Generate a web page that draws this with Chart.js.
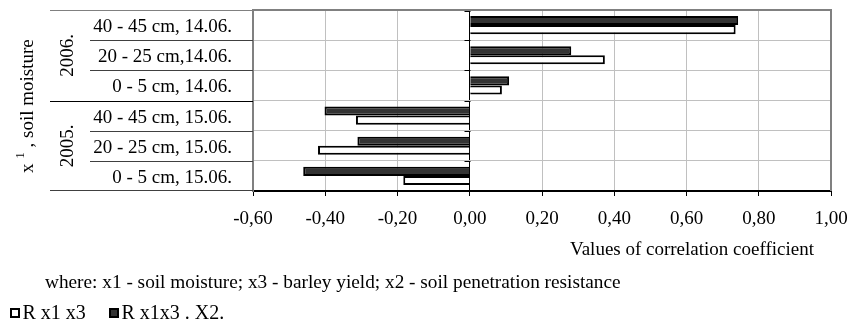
<!DOCTYPE html>
<html>
<head>
<meta charset="utf-8">
<script src="https://cdn.jsdelivr.net/npm/chart.js@4.4.0/dist/chart.umd.min.js"></script>
<style>
  html, body { margin: 0; padding: 0; background: #fff; }
  #wrap { position: relative; width: 849px; height: 322px; }
</style>
</head>
<body>
<div id="wrap"><canvas id="balkenDiagramm" width="849" height="322"></canvas></div>
<script>
// Daten (von oben nach unten)
const kategorien = ['40 - 45 cm, 14.06.', '20 - 25 cm,14.06.', '0 - 5 cm, 14.06.',
                    '40 - 45 cm, 15.06.', '20 - 25 cm, 15.06.', '0 - 5 cm, 15.06.'];
const jahre = ['2006.', '2005.'];
const rX1X3X2 = [0.743, 0.281, 0.109, -0.402, -0.311, -0.461];
const rX1X3 = [0.736, 0.374, 0.089, -0.315, -0.420, -0.184];
const xTicks = [-0.6, -0.4, -0.2, 0, 0.2, 0.4, 0.6, 0.8, 1.0];
const legendeNamen = ['R x1 x3', 'R x1x3 . X2.'];
const xTitel = 'Values of correlation coefficient';
const fussnote = 'where: x1 - soil moisture; x3 - barley yield; x2 - soil penetration resistance';

const schrift = "'Liberation Serif', 'Times New Roman', serif";
Chart.defaults.font.family = schrift;
Chart.defaults.font.size = 19;
Chart.defaults.color = '#000';

function komma(v) {
  return (Math.round(v * 100) / 100).toFixed(2).replace('.', ',');
}

// Chart.js soll keinen Platz fuer ueberstehende Beschriftungen reservieren
function ohnePadding(s) {
  s.paddingTop = 0; s.paddingBottom = 0; s.paddingLeft = 0; s.paddingRight = 0;
}

// eigene Zeichnungen: Rahmen, Gruppenbeschriftung, Titel, Fussnote, Legende
const extras = {
  id: 'extras',
  afterDraw(chart) {
    const ctx = chart.ctx;
    const a = chart.chartArea;
    const y = chart.scales.y;
    const x = chart.scales.x;
    const grenze = i => (y.getPixelForTick(i) + y.getPixelForTick(i + 1)) / 2;

    ctx.save();
    // Rahmen oben und rechts
    ctx.strokeStyle = '#808080';
    ctx.lineWidth = 2;
    ctx.beginPath();
    ctx.moveTo(a.left, a.top); ctx.lineTo(a.right, a.top); ctx.lineTo(a.right, a.bottom);
    ctx.stroke();

    // Linien im Beschriftungsbereich
    ctx.lineWidth = 1;
    ctx.strokeStyle = '#808080';
    ctx.beginPath(); ctx.moveTo(50, a.top + 0.5); ctx.lineTo(a.left, a.top + 0.5); ctx.stroke();
    for (let i = 0; i < kategorien.length - 1; i++) {
      const py = Math.round(grenze(i)) + 0.5;
      ctx.strokeStyle = i === 2 ? '#000' : '#404040';
      ctx.beginPath();
      ctx.moveTo(i === 2 ? 50 : 90, py); ctx.lineTo(a.left, py);
      ctx.stroke();
    }
    ctx.strokeStyle = '#404040';
    ctx.beginPath(); ctx.moveTo(50, a.bottom - 0.5); ctx.lineTo(a.left, a.bottom - 0.5); ctx.stroke();

    // kleine Striche an der Nulllinie
    const x0 = Math.round(x.getPixelForValue(0)) + 0.5;
    ctx.strokeStyle = '#000';
    const marken = [a.top + 1];
    for (let i = 0; i < kategorien.length - 1; i++) marken.push(grenze(i));
    marken.forEach(py => {
      ctx.beginPath(); ctx.moveTo(x0 - 6, Math.round(py) + 0.5); ctx.lineTo(x0, Math.round(py) + 0.5); ctx.stroke();
    });

    ctx.fillStyle = '#000';
    ctx.font = '19px ' + schrift;
    ctx.textBaseline = 'middle';
    ctx.textAlign = 'center';
    // Jahre (gedreht)
    const gruppen = [[0, 2], [3, 5]];
    gruppen.forEach((g, k) => {
      const cy = (y.getPixelForTick(g[0]) + y.getPixelForTick(g[1])) / 2;
      ctx.save();
      ctx.translate(68, cy);
      ctx.rotate(-Math.PI / 2);
      ctx.fillText(jahre[k], 0, 0);
      ctx.restore();
    });

    // y-Achsentitel mit hochgestellter 1
    ctx.save();
    ctx.translate(33, 173);
    ctx.rotate(-Math.PI / 2);
    ctx.textAlign = 'left';
    ctx.textBaseline = 'alphabetic';
    let px = 0;
    ctx.fillText('x ', px, 0);
    px += ctx.measureText('x ').width;
    ctx.font = '13px ' + schrift;
    ctx.fillText('1', px, -9);
    px += ctx.measureText('1').width;
    ctx.font = '19px ' + schrift;
    ctx.fillText(' , soil moisture', px, 0);
    ctx.restore();

    // x-Achsentitel
    ctx.textBaseline = 'alphabetic';
    ctx.textAlign = 'center';
    ctx.fillText(xTitel, 692, 255);

    // Fussnote
    ctx.textAlign = 'left';
    ctx.font = '19.3px ' + schrift;
    ctx.fillText(fussnote, 45, 288);

    // Legende
    ctx.font = '20px ' + schrift;
    const ds = chart.data.datasets;
    const eintraege = [ds[1], ds[0]];
    const lx = [10, 109];
    eintraege.forEach((d, k) => {
      ctx.fillStyle = '#000';
      ctx.fillRect(lx[k], 308, 10, 10);
      ctx.fillStyle = d.backgroundColor;
      ctx.fillRect(lx[k] + 2, 310, 6, 6);
      ctx.fillStyle = '#000';
      ctx.fillText(d.label, lx[k] + 12.5, 319);
    });
    ctx.restore();
  }
};

new Chart(document.querySelector('#balkenDiagramm'), {
  type: 'bar',
  data: {
    labels: kategorien,
    datasets: [{
      label: legendeNamen[1],
      data: rX1X3X2,
      backgroundColor: '#333333',
      borderColor: '#000',
      borderWidth: 2
    }, {
      label: legendeNamen[0],
      data: rX1X3,
      backgroundColor: '#ffffff',
      borderColor: '#000',
      borderWidth: 2
    }]
  },
  options: {
    indexAxis: 'y',
    responsive: false,
    animation: false,
    categoryPercentage: 0.6,
    barPercentage: 1,
    layout: { padding: { top: 10, right: 18, left: 0, bottom: 0 } },
    plugins: {
      legend: { display: false },
      tooltip: { enabled: false }
    },
    scales: {
      x: {
        min: -0.6,
        max: 1.0,
        afterBuildTicks: s => { s.ticks = xTicks.map(v => ({ value: v })); },
        afterFit: s => { s.height = 131; ohnePadding(s); },
        ticks: { callback: v => komma(v), padding: 12, maxRotation: 0 },
        grid: {
          color: c => (c.tick && c.tick.value === 0) ? '#000' : '#c0c0c0',
          tickColor: '#000',
          tickLength: 5
        },
        border: { color: '#000', width: 2 }
      },
      y: {
        afterFit: s => { s.width = 253; ohnePadding(s); },
        ticks: { padding: 21, labelOffset: 2 },
        grid: { color: '#c0c0c0', drawTicks: false },
        border: { color: '#808080', width: 2 }
      }
    }
  },
  plugins: [extras]
});
</script>
</body>
</html>
